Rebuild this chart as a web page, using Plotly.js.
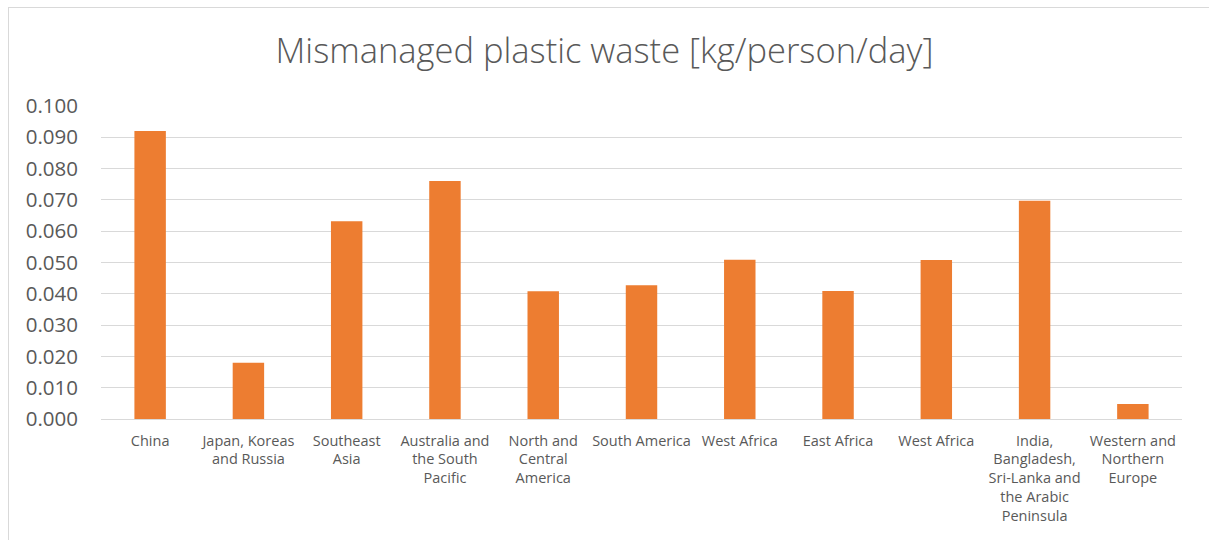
<!DOCTYPE html>
<html>
<head>
<meta charset="utf-8">
<script src="https://cdn.plot.ly/plotly-3.0.1.min.js"></script>
<style>
html,body{margin:0;padding:0;background:#fff;overflow:hidden;}
#chart{position:absolute;left:0;top:0;width:1209px;height:540px;}
#frame{position:absolute;left:8px;top:7px;width:1400px;height:800px;border:1px solid #d9d9d9;pointer-events:none;}
</style>
</head>
<body>
<div id="chart"></div>
<div id="frame"></div>
<script>
const regions = [
  "China",
  "Japan, Koreas<br>and Russia",
  "Southeast<br>Asia",
  "Australia and<br>the South<br>Pacific",
  "North and<br>Central<br>America",
  "South America",
  "West Africa",
  "East Africa",
  "West Africa",
  "India,<br>Bangladesh,<br>Sri-Lanka and<br>the Arabic<br>Peninsula",
  "Western and<br>Northern<br>Europe"
];
const wastePerPersonDay = [0.092, 0.018, 0.0632, 0.0760, 0.0408, 0.0427, 0.0509, 0.0409, 0.0508, 0.0697, 0.0048];
const yTickValues = [0, 0.01, 0.02, 0.03, 0.04, 0.05, 0.06, 0.07, 0.08, 0.09, 0.1];
const yTickLabels = ["0.000","0.010","0.020","0.030","0.040","0.050","0.060","0.070","0.080","0.090","0.100"];

const positions = regions.map((_, i) => i);

const trace = {
  type: "bar",
  x: positions,
  y: wastePerPersonDay,
  marker: {color: "#ED7D31"},
  hoverinfo: "skip"
};

const layout = {
  width: 1209,
  height: 540,
  margin: {l: 101, r: 27, t: 106, b: 121},
  paper_bgcolor: "#ffffff",
  plot_bgcolor: "#ffffff",
  font: {family: "Open Sans, sans-serif", color: "#595959"},
  title: {
    text: "Mismanaged plastic waste [kg/person/day]",
    font: {family: "Open Sans, sans-serif", size: 34.5, weight: 300, color: "#595959"},
    x: 0.5, xanchor: "center",
    y: 0.905, yanchor: "middle", yref: "container"
  },
  bargap: 0.68,
  showlegend: false,
  xaxis: {
    range: [-0.5, regions.length - 0.5],
    tickvals: positions,
    ticktext: regions,
    tickangle: 0,
    showgrid: false,
    zeroline: false,
    showline: false,
    ticks: "",
    ticklabelstandoff: 11,
    tickfont: {family: "Open Sans, sans-serif", size: 14.5, color: "#595959"},
    fixedrange: true
  },
  yaxis: {
    range: [0, 0.1],
    tickvals: yTickValues,
    ticktext: yTickLabels,
    showgrid: true,
    gridcolor: "#d9d9d9",
    gridwidth: 1,
    zeroline: true,
    zerolinecolor: "#d9d9d9",
    zerolinewidth: 1,
    showline: false,
    ticks: "",
    ticklabelstandoff: 22,
    tickfont: {family: "Open Sans, sans-serif", size: 20.5, color: "#595959"},
    fixedrange: true
  }
};

Plotly.newPlot("chart", [trace], layout, {staticPlot: true, displayModeBar: false});
</script>
</body>
</html>
